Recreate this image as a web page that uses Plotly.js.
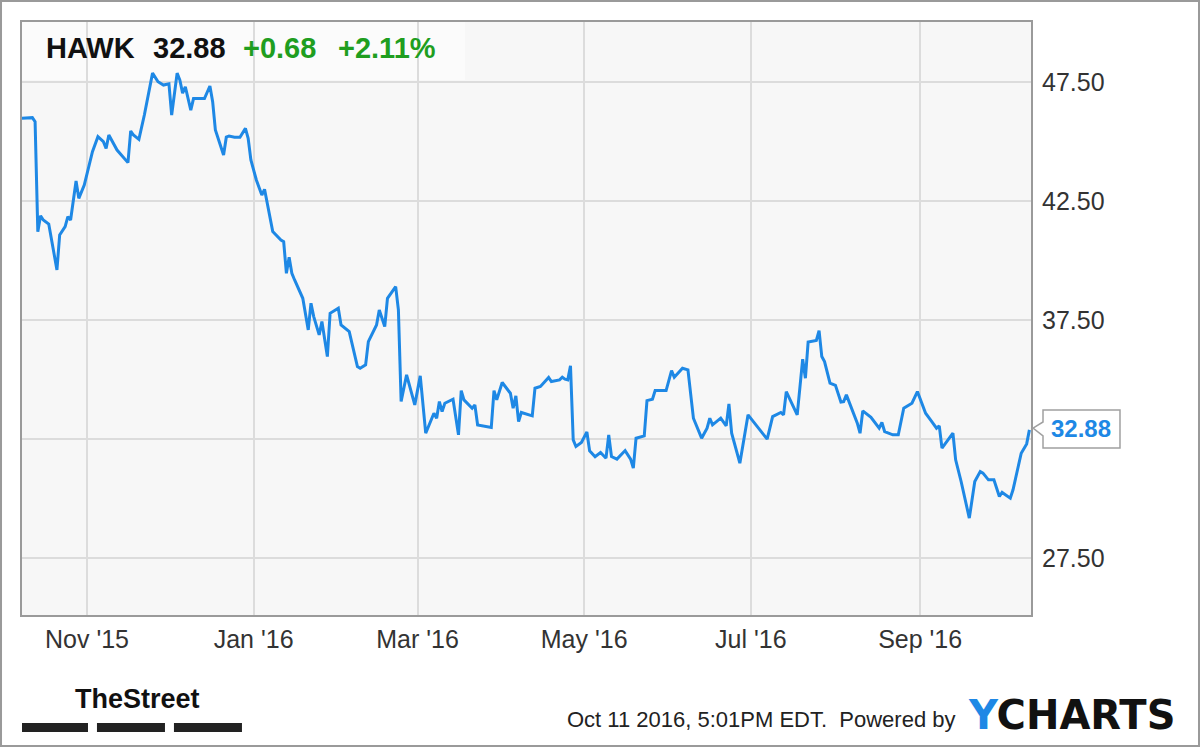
<!DOCTYPE html>
<html>
<head>
<meta charset="utf-8">
<script src="https://cdn.plot.ly/plotly-3.0.1.min.js"></script>
<style>
html,body{margin:0;padding:0;background:#fff;}
#chart{width:1200px;height:747px;}
</style>
</head>
<body>
<div id="chart"></div>
<script>
const ticker = 'HAWK';
const lastPrice = 32.88;
const change = 0.68;
const changePct = 2.11;
const timestamp = 'Oct 11 2016, 5:01PM EDT.  Powered by';

const dates = [
'2015-10-08','2015-10-12','2015-10-13','2015-10-14','2015-10-15','2015-10-16','2015-10-18','2015-10-21','2015-10-22','2015-10-24',
'2015-10-25','2015-10-26','2015-10-28','2015-10-29','2015-10-31','2015-11-03','2015-11-05','2015-11-07','2015-11-08','2015-11-09',
'2015-11-12','2015-11-16','2015-11-17','2015-11-18','2015-11-20','2015-11-22','2015-11-25','2015-11-27','2015-11-29','2015-12-01',
'2015-12-02','2015-12-04','2015-12-05','2015-12-06','2015-12-07','2015-12-09','2015-12-10','2015-12-14','2015-12-16','2015-12-17',
'2015-12-18','2015-12-21','2015-12-22','2015-12-23','2015-12-25','2015-12-27','2015-12-29','2015-12-30','2015-12-31','2016-01-02',
'2016-01-04','2016-01-05','2016-01-08','2016-01-11','2016-01-12','2016-01-13','2016-01-14','2016-01-15','2016-01-16','2016-01-19',
'2016-01-21','2016-01-22','2016-01-23','2016-01-25','2016-01-26','2016-01-28','2016-01-29','2016-02-01','2016-02-02','2016-02-05',
'2016-02-08','2016-02-09','2016-02-11','2016-02-12','2016-02-15','2016-02-16','2016-02-18','2016-02-19','2016-02-22','2016-02-23',
'2016-02-24','2016-02-26','2016-02-29','2016-03-02','2016-03-04','2016-03-07','2016-03-08','2016-03-09','2016-03-10','2016-03-11',
'2016-03-14','2016-03-16','2016-03-17','2016-03-18','2016-03-21','2016-03-22','2016-03-23','2016-03-28','2016-03-29','2016-03-30',
'2016-04-01','2016-04-04','2016-04-05','2016-04-06','2016-04-07','2016-04-08','2016-04-12','2016-04-13','2016-04-15','2016-04-18',
'2016-04-19','2016-04-22','2016-04-23','2016-04-24','2016-04-25','2016-04-26','2016-04-27','2016-04-28','2016-04-30','2016-05-02',
'2016-05-03','2016-05-05','2016-05-07','2016-05-09','2016-05-10','2016-05-11','2016-05-13','2016-05-16','2016-05-18','2016-05-19',
'2016-05-20','2016-05-23','2016-05-24','2016-05-26','2016-05-27','2016-05-31','2016-06-02','2016-06-03','2016-06-06','2016-06-08',
'2016-06-10','2016-06-13','2016-06-15','2016-06-16','2016-06-17','2016-06-20','2016-06-22','2016-06-23','2016-06-24','2016-06-27',
'2016-06-30','2016-07-07','2016-07-09','2016-07-12','2016-07-13','2016-07-14','2016-07-18','2016-07-20','2016-07-21','2016-07-22',
'2016-07-25','2016-07-26','2016-07-27','2016-07-28','2016-07-30','2016-08-01','2016-08-03','2016-08-04','2016-08-05','2016-08-07',
'2016-08-09','2016-08-10','2016-08-11','2016-08-14','2016-08-17','2016-08-18','2016-08-19','2016-08-22','2016-08-24','2016-08-26',
'2016-08-29','2016-08-31','2016-09-01','2016-09-03','2016-09-05','2016-09-07','2016-09-08','2016-09-09','2016-09-13','2016-09-14',
'2016-09-16','2016-09-19','2016-09-21','2016-09-23','2016-09-24','2016-09-26','2016-09-28','2016-09-30','2016-10-01','2016-10-04',
'2016-10-05','2016-10-08','2016-10-10','2016-10-11'
];

const prices = [
45.97,46.00,45.83,41.21,41.88,41.70,41.53,39.60,41.07,41.42,
41.84,41.70,43.34,42.61,43.17,44.57,45.20,44.99,44.71,45.27,
44.64,44.11,45.44,45.27,45.09,46.11,47.87,47.51,47.37,47.42,
46.11,47.87,47.58,47.03,47.30,46.32,46.80,46.80,47.33,46.67,
45.48,44.43,45.18,45.23,45.18,45.18,45.55,45.13,44.22,43.38,
42.75,42.99,41.21,40.86,40.79,39.46,40.13,39.46,39.18,38.41,
37.08,38.20,37.64,36.87,37.43,35.96,37.78,37.99,37.29,37.01,
35.54,35.47,35.61,36.59,37.29,37.92,37.22,38.41,38.90,37.92,
34.07,35.19,33.93,35.15,32.74,33.58,33.37,34.07,33.65,34.00,
34.17,32.67,34.53,34.14,33.79,33.93,33.09,32.98,34.53,34.14,
34.87,34.42,33.79,34.31,33.23,33.61,33.47,34.63,34.70,35.08,
34.91,34.98,35.09,35.01,34.98,35.57,32.46,32.18,32.35,32.79,
32.00,31.75,31.93,31.69,32.67,31.76,31.65,32.01,31.65,31.27,
32.53,32.63,34.11,34.17,34.53,34.53,35.37,35.09,35.47,35.40,
33.37,32.53,32.95,33.37,33.09,33.37,33.05,33.97,32.74,31.48,
33.51,32.49,33.44,33.61,33.51,34.49,33.51,35.85,35.05,36.57,
36.64,37.05,35.96,35.75,34.84,34.75,34.05,34.07,34.35,33.72,
33.16,32.74,33.68,33.41,32.95,33.19,32.81,32.67,32.67,33.79,
34.00,34.49,34.21,33.58,33.27,32.95,33.05,32.11,32.74,31.62,
30.71,29.17,30.71,31.13,31.06,30.78,30.78,30.08,30.25,30.01,
30.36,31.90,32.29,32.88
];

const xTickVals = ['2015-11-01','2016-01-01','2016-03-01','2016-05-01','2016-07-01','2016-09-01'];
const xTickText = ["Nov '15","Jan '16","Mar '16","May '16","Jul '16","Sep '16"];
const yTickVals = [27.5, 32.5, 37.5, 42.5, 47.5];
const yTickText = ['27.50', '', '37.50', '42.50', '47.50'];

const lineBlue = '#1e88e5';
const green = '#1f9e1f';
const baseFont = 'Liberation Sans, Arial, sans-serif';

const trace = {
  type: 'scatter', mode: 'lines',
  x: dates, y: prices,
  line: {color: lineBlue, width: 3},
  hoverinfo: 'skip'
};

const layout = {
  width: 1200, height: 747,
  margin: {l: 22, r: 169, t: 22, b: 132},
  paper_bgcolor: '#ffffff',
  plot_bgcolor: '#f7f7f7',
  showlegend: false,
  font: {family: baseFont, color: '#222'},
  xaxis: {
    type: 'date',
    range: ['2015-10-08 05:00', '2016-10-11 14:00'],
    tickvals: xTickVals, ticktext: xTickText,
    tickfont: {size: 25, color: '#333', family: baseFont},
    ticks: 'outside', ticklen: 1, tickcolor: 'rgba(0,0,0,0)',
    showgrid: true, gridcolor: '#dcdcdc', gridwidth: 2,
    showline: true, linecolor: '#9a9a9a', linewidth: 2, mirror: true,
    zeroline: false, fixedrange: true
  },
  yaxis: {
    side: 'right',
    range: [25.1, 50.02],
    tickvals: yTickVals, ticktext: yTickText,
    tickfont: {size: 25, color: '#333', family: baseFont},
    ticks: 'outside', ticklen: 4, tickcolor: 'rgba(0,0,0,0)',
    showgrid: true, gridcolor: '#dcdcdc', gridwidth: 2,
    showline: true, linecolor: '#9a9a9a', linewidth: 2, mirror: true,
    zeroline: false, fixedrange: true
  },
  shapes: [
    {type: 'rect', xref: 'paper', yref: 'paper', x0: 0, x1: 0.439, y0: 0.902, y1: 1,
     fillcolor: 'rgba(255,255,255,0.55)', line: {width: 0}, layer: 'between'},
    {type: 'rect', xref: 'paper', yref: 'paper', x0: -0.0208, x1: 1.1665, y0: -0.2209, y1: 1.0354,
     line: {color: '#9a9a9a', width: 2}, fillcolor: 'rgba(0,0,0,0)', layer: 'above'},
    {type: 'path', xref: 'paper', yref: 'paper',
     path: 'M 1.0020,0.3153 L 1.0119,0.3255 L 1.0119,0.3457 L 1.0882,0.3457 L 1.0882,0.2816 L 1.0119,0.2816 L 1.0119,0.3019 Z',
     fillcolor: '#ffffff', line: {color: '#a0a0a0', width: 1.5}, layer: 'above'},
    {type: 'rect', xref: 'paper', yref: 'paper', x0: 0.0, x1: 0.0654, y0: -0.1973, y1: -0.1821,
     fillcolor: '#222', line: {width: 0}},
    {type: 'rect', xref: 'paper', yref: 'paper', x0: 0.0743, x1: 0.1417, y0: -0.1973, y1: -0.1821,
     fillcolor: '#222', line: {width: 0}},
    {type: 'rect', xref: 'paper', yref: 'paper', x0: 0.1506, x1: 0.2180, y0: -0.1973, y1: -0.1821,
     fillcolor: '#222', line: {width: 0}}
  ],
  annotations: [
    {xref: 'paper', yref: 'paper', x: 0.0218, y: 0.956, xanchor: 'left', yanchor: 'middle', showarrow: false,
     text: '<b>' + ticker + '</b>', font: {size: 29, color: '#111', family: baseFont}},
    {xref: 'paper', yref: 'paper', x: 0.1278, y: 0.956, xanchor: 'left', yanchor: 'middle', showarrow: false,
     text: '<b>' + lastPrice.toFixed(2) + '</b>', font: {size: 29, color: '#111', family: baseFont}},
    {xref: 'paper', yref: 'paper', x: 0.2175, y: 0.956, xanchor: 'left', yanchor: 'middle', showarrow: false,
     text: '<b>+' + change.toFixed(2) + '</b>', font: {size: 29, color: green, family: baseFont}},
    {xref: 'paper', yref: 'paper', x: 0.3115, y: 0.956, xanchor: 'left', yanchor: 'middle', showarrow: false,
     text: '<b>+' + changePct.toFixed(2) + '%</b>', font: {size: 29, color: green, family: baseFont}},
    {xref: 'paper', yref: 'paper', x: 1.0495, y: 0.3137, xanchor: 'center', yanchor: 'middle', showarrow: false,
     text: '<b>' + prices[prices.length - 1].toFixed(2) + '</b>', font: {size: 24, color: lineBlue, family: baseFont}},
    {xref: 'paper', yref: 'paper', x: 0.5385, y: -0.177, xanchor: 'left', yanchor: 'middle', showarrow: false,
     text: timestamp.replace('  ', '&nbsp; '), font: {size: 22, color: '#222', family: baseFont}},
    {xref: 'paper', yref: 'paper', x: 0.9356, y: -0.1686, xanchor: 'left', yanchor: 'middle', showarrow: false,
     text: '<b><span style="color:#1e88e5">Y</span>CHARTS</b>', font: {size: 40, color: '#111', family: 'DejaVu Sans, sans-serif'}},
    {xref: 'paper', yref: 'paper', x: 0.0505, y: -0.1417, xanchor: 'left', yanchor: 'middle', showarrow: false,
     text: '<b>TheStreet</b>', font: {size: 27, color: '#111', family: baseFont}}
  ]
};

Plotly.newPlot('chart', [trace], layout, {staticPlot: true, displayModeBar: false});
</script>
</body>
</html>
